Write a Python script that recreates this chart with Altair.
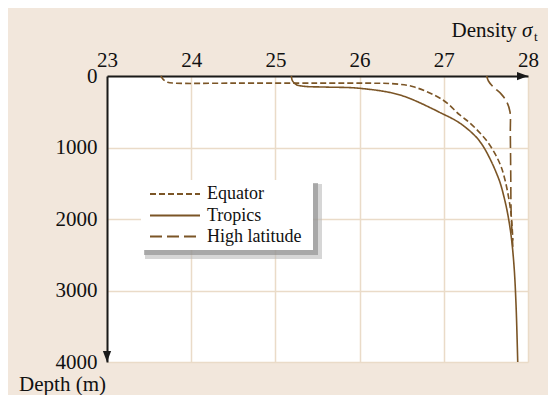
import altair as alt
import pandas as pd

# ---- data ----
series_names = ["Equator", "Tropics", "High latitude"]

eq_density = [23.64, 23.67, 23.72, 23.80, 24.5, 25.5, 26.2, 26.42, 26.64, 26.99, 27.19, 27.31, 27.43, 27.525, 27.61, 27.68, 27.73, 27.775, 27.80, 27.815, 27.82]
eq_depth   = [0,     50,    88,    100,   100,  100,  101,  110,   150,   336,   545,   657,   797,   930,    1091,  1266,  1469,  1734,   1944,  2182,   2300]

tr_density = [25.19, 25.20, 25.25, 25.35, 25.6, 26.0, 26.48, 26.99, 27.17, 27.31, 27.41, 27.48, 27.55, 27.61, 27.67, 27.715, 27.757, 27.80, 27.834, 27.858, 27.878]
tr_depth   = [0,     60,    122,   145,   155,  172,  266,   531,   643,   769,   888,   1007,  1161,  1315,  1497,  1692,   1916,   2238,  2657,   3203,   4000]

hl_density = [27.51, 27.53, 27.585, 27.68, 27.747, 27.786, 27.790, 27.795, 27.80, 27.82]
hl_depth   = [0,     70,    150,    250,   360,    500,    800,    1360,   1920,   2390]

x_ticks = [23, 24, 25, 26, 27, 28]
y_ticks = [0, 1000, 2000, 3000, 4000]

# ---- styling ----
BG = "#F2E7DC"
GRID = "#EADBC8"
BROWN = "#7B5526"
FONT = "Liberation Serif"
W, H = 421, 286

rows = []
for name, dens, dep in [("Equator", eq_density, eq_depth),
                        ("Tropics", tr_density, tr_depth),
                        ("High latitude", hl_density, hl_depth)]:
    for i, (d, z) in enumerate(zip(dens, dep)):
        rows.append({"series": name, "density": d, "depth": z, "i": i})
df = pd.DataFrame(rows)

xscale = alt.Scale(domain=[23, 28], nice=False, zero=False)
yscale = alt.Scale(domain=[0, 4000], reverse=True, nice=False)
dash_scale = alt.Scale(domain=series_names, range=[[6, 3], [1, 0], [12, 5]])

lines = alt.Chart(df).mark_line(color=BROWN, strokeWidth=1.6, interpolate="catmull-rom").encode(
    x=alt.X("density:Q", scale=xscale,
            axis=alt.Axis(orient="top", values=x_ticks, format="d", title=None, ticks=False,
                          labelFont=FONT, labelFontSize=21, labelColor="#111",
                          labelPadding=6, labelFlush=False,
                          domainColor="#1a1a1a", domainWidth=2,
                          grid=True, gridColor=GRID, gridWidth=1.5)),
    y=alt.Y("depth:Q", scale=yscale,
            axis=alt.Axis(orient="left", values=y_ticks, format="d", title=None, ticks=False,
                          labelFont=FONT, labelFontSize=21, labelColor="#111",
                          labelPadding=10, labelFlush=False,
                          domainColor="#1a1a1a", domainWidth=2,
                          grid=True, gridColor=GRID, gridWidth=1.5)),
    strokeDash=alt.StrokeDash("series:N", scale=dash_scale, legend=None),
    detail="series:N",
    order="i:Q",
)

# arrow heads at the axis ends
arr_r = pd.DataFrame({"density": [28], "depth": [0]})
arr_d = pd.DataFrame({"density": [23], "depth": [4000]})
arrow_right = alt.Chart(arr_r).mark_point(
    shape="M0,0 L-2,-0.75 L-2,0.75 Z", size=121, filled=True, color="#1a1a1a", opacity=1
).encode(x=alt.X("density:Q", scale=xscale), y=alt.Y("depth:Q", scale=yscale))
arrow_down = alt.Chart(arr_d).mark_point(
    shape="M0,0 L-0.75,-2 L0.75,-2 Z", size=121, filled=True, color="#1a1a1a", opacity=1
).encode(x=alt.X("density:Q", scale=xscale), y=alt.Y("depth:Q", scale=yscale))

# legend (drawn by hand: box with shadow, three sample lines, labels)
one = pd.DataFrame({"k": [0]})
shadow2 = alt.Chart(one).mark_rect(color="#BBBBBB", opacity=0.6).encode(
    x=alt.value(38), x2=alt.value(215), y=alt.value(108), y2=alt.value(183))
shadow1 = alt.Chart(one).mark_rect(color="#888888", opacity=0.6).encode(
    x=alt.value(37), x2=alt.value(211), y=alt.value(107), y2=alt.value(179))
box = alt.Chart(one).mark_rect(color="white").encode(
    x=alt.value(34), x2=alt.value(206), y=alt.value(104), y2=alt.value(174))

legend_layers = [shadow2, shadow1, box]
leg_y = [118, 139.5, 160.5]
leg_dash = [[6, 3], [1, 0], [12, 5]]
for name, yy, dash in zip(series_names, leg_y, leg_dash):
    lab = pd.DataFrame({"label": [name]})
    legend_layers.append(
        alt.Chart(lab).mark_rule(color=BROWN, strokeWidth=1.8, strokeDash=dash).encode(
            x=alt.value(43), x2=alt.value(93), y=alt.value(yy)))
    legend_layers.append(
        alt.Chart(lab).mark_text(font=FONT, fontSize=18, color="#111", align="left",
                                 baseline="middle").encode(
            x=alt.value(100), y=alt.value(yy), text="label:N"))

# axis titles
t1 = alt.Chart(pd.DataFrame({"t": ["Density"]})).mark_text(
    font=FONT, fontSize=21, color="#111", align="left", baseline="alphabetic").encode(
    x=alt.value(344.5), y=alt.value(-39), text="t:N")
t2 = alt.Chart(pd.DataFrame({"t": ["σ"]})).mark_text(
    font=FONT, fontSize=21, fontStyle="italic", color="#111", align="left", baseline="alphabetic").encode(
    x=alt.value(415), y=alt.value(-39), text="t:N")
t3 = alt.Chart(pd.DataFrame({"t": ["t"]})).mark_text(
    font=FONT, fontSize=13, color="#111", align="left", baseline="alphabetic").encode(
    x=alt.value(427), y=alt.value(-35), text="t:N")
t4 = alt.Chart(pd.DataFrame({"t": ["Depth (m)"]})).mark_text(
    font=FONT, fontSize=21, color="#111", align="right", baseline="alphabetic").encode(
    x=alt.value(-1), y=alt.value(315), text="t:N")

chart = alt.layer(lines, *legend_layers, arrow_right, arrow_down, t1, t2, t3, t4).properties(
    width=W, height=H,
    background=BG,
    padding={"left": 99, "top": 68, "right": 20, "bottom": 33},
    autosize=alt.AutoSizeParams(type="none"),
).configure_view(fill="white", stroke=None)

chart.save("out.html", embed_options={"renderer": "svg", "actions": False})
